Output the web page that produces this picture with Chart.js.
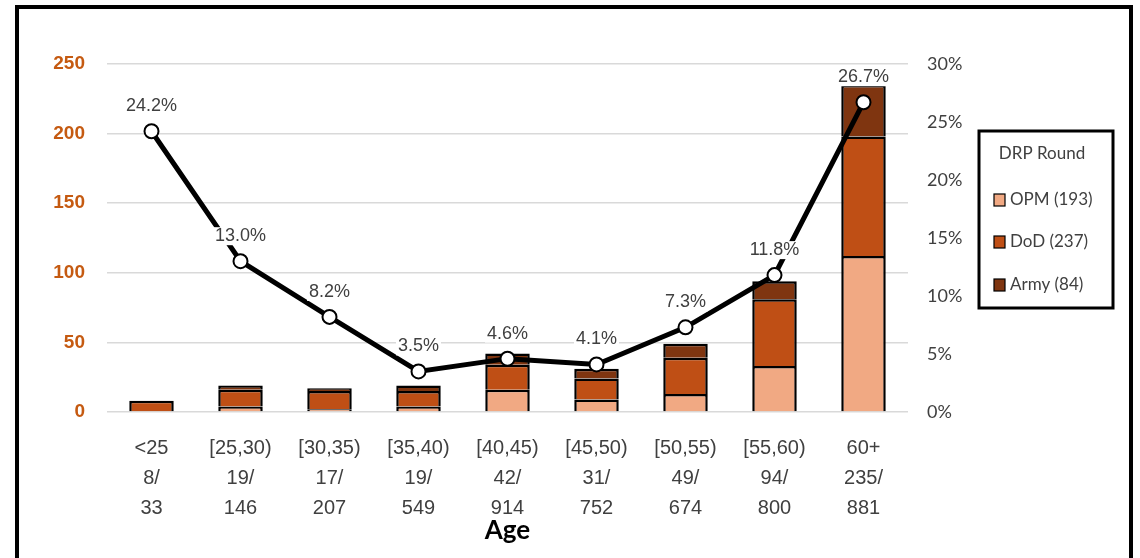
<!DOCTYPE html>
<html>
<head>
<meta charset="utf-8">
<script src="https://cdn.jsdelivr.net/npm/chart.js@4"></script>
<style>
  html, body { margin: 0; padding: 0; background: #ffffff; }
  #wrap { width: 1140px; height: 558px; position: relative; }
</style>
</head>
<body>
<div id="wrap"><canvas id="chart" width="1140" height="558"></canvas></div>
<script>
// Age groups, with cases / total for each group
const ageGroups = ['<25', '[25,30)', '[30,35)', '[35,40)', '[40,45)', '[45,50)', '[50,55)', '[55,60)', '60+'];
const cases     = [8, 19, 17, 19, 42, 31, 49, 94, 235];
const totals    = [33, 146, 207, 549, 914, 752, 674, 800, 881];

// Cases by DRP round (stacked bars)
const opm  = [0, 4, 2, 4, 16, 9, 13, 33, 112];
const dod  = [8, 12, 13, 11, 18, 15, 26, 48, 86];
const army = [0, 3, 2, 4, 8, 7, 10, 13, 37];

// Share of each age group (percent, right axis)
const rate = [24.2, 13.0, 8.2, 3.5, 4.6, 4.1, 7.3, 11.8, 26.7];

// Axis ticks
const countTicks = [0, 50, 100, 150, 200, 250];
const pctTicks   = [0, 5, 10, 15, 20, 25, 30];

const roundNames  = ['OPM', 'DoD', 'Army'];
const roundColors = ['#F1A983', '#BF4F15', '#7F3510'];
const roundData   = [opm, dod, army];

const sum = arr => arr.reduce((a, b) => a + b, 0);
const xLabels = ageGroups.map((g, i) => [g, cases[i] + '/', String(totals[i])]);

// Outer frame around the whole figure
const framePlugin = {
  id: 'frame',
  beforeDraw(chart) {
    const c = chart.ctx;
    c.save();
    c.fillStyle = '#ffffff';
    c.fillRect(0, 0, chart.width, chart.height);
    c.strokeStyle = '#000000';
    c.lineWidth = 4;
    c.strokeRect(17, 7, 1114, 620);
    c.restore();
  }
};

// Percent labels above the line points, on a white backing
const pointLabelPlugin = {
  id: 'pointLabels',
  afterDatasetsDraw(chart) {
    const c = chart.ctx;
    const meta = chart.getDatasetMeta(0);
    const ds = chart.data.datasets[0];
    c.save();
    c.font = '18px "Liberation Sans", Arial, sans-serif';
    c.textAlign = 'center';
    c.textBaseline = 'middle';
    meta.data.forEach((pt, i) => {
      const txt = ds.data[i].toFixed(1) + '%';
      const w = c.measureText(txt).width;
      const y = pt.y - 25;
      c.fillStyle = '#ffffff';
      c.fillRect(pt.x - w / 2 - 2, y - 9, w + 4, 18);
      c.fillStyle = '#404040';
      c.fillText(txt, pt.x, y);
    });
    c.restore();
  }
};

// Boxed legend on the right
const legendBoxPlugin = {
  id: 'legendBox',
  afterDraw(chart) {
    const c = chart.ctx;
    const x0 = 979, y0 = 131, w = 134, h = 177;
    c.save();
    c.fillStyle = '#ffffff';
    c.fillRect(x0, y0, w, h);
    c.strokeStyle = '#000000';
    c.lineWidth = 3;
    c.strokeRect(x0, y0, w, h);
    c.fillStyle = '#404040';
    c.font = '17px Lato, "Noto Sans", sans-serif';
    c.textAlign = 'center';
    c.textBaseline = 'middle';
    c.fillText('DRP Round', x0 + w / 2 - 4, y0 + 23);
    c.textAlign = 'left';
    const rows = [200, 242, 285];
    chart.data.datasets.slice(1).forEach((ds, i) => {
      const y = rows[i];
      c.fillStyle = ds.backgroundColor;
      c.fillRect(994, y - 6, 11, 12);
      c.strokeStyle = '#000000';
      c.lineWidth = 1.2;
      c.strokeRect(994, y - 6, 11, 12);
      c.fillStyle = '#404040';
      c.fillText(ds.label, 1010, y);
    });
    c.restore();
  }
};

const datasets = [{
  type: 'line',
  label: 'Rate',
  data: rate,
  yAxisID: 'y1',
  order: 0,
  borderColor: '#000000',
  borderWidth: 5,
  tension: 0,
  pointRadius: 7,
  pointBorderWidth: 2,
  pointBackgroundColor: '#ffffff',
  pointBorderColor: '#000000'
}].concat(roundNames.map((name, i) => ({
  type: 'bar',
  label: name + ' (' + sum(roundData[i]) + ')',
  data: roundData[i],
  yAxisID: 'y',
  order: 1,
  stack: 'rounds',
  backgroundColor: roundColors[i],
  borderColor: '#000000',
  borderWidth: 2.5,
  categoryPercentage: 1,
  barPercentage: 0.5
})));

new Chart(document.getElementById('chart'), {
  type: 'bar',
  data: { labels: xLabels, datasets },
  plugins: [framePlugin, pointLabelPlugin, legendBoxPlugin],
  options: {
    responsive: false,
    animation: false,
    layout: { padding: { left: 20, right: 157, top: 64, bottom: 0 } },
    plugins: { legend: { display: false }, tooltip: { enabled: false } },
    scales: {
      x: {
        stacked: true,
        grid: { display: false },
        border: { display: false },
        ticks: {
          color: '#404040',
          padding: 13,
          maxRotation: 0,
          autoSkip: false,
          font: { family: '"Liberation Sans", Arial, sans-serif', size: 20, lineHeight: 1.5 }
        },
        title: {
          display: true,
          text: 'Age',
          color: '#000000',
          padding: { top: 0, bottom: 12 },
          font: { family: 'Lato, "Noto Sans", sans-serif', size: 26, weight: 'bold', lineHeight: 1.2 }
        },
        afterFit(s) { s.height = 146; }
      },
      y: {
        stacked: true,
        min: countTicks[0],
        max: countTicks[countTicks.length - 1],
        afterBuildTicks(s) { s.ticks = countTicks.map(v => ({ value: v })); },
        grid: { color: '#d9d9d9', lineWidth: 1.5, drawTicks: false },
        border: { display: false },
        ticks: {
          color: '#C55A11',
          padding: 22,
          font: { family: '"Liberation Sans", Arial, sans-serif', size: 19, weight: 'bold' }
        },
        afterFit(s) { s.width = 87; }
      },
      y1: {
        position: 'right',
        min: pctTicks[0],
        max: pctTicks[pctTicks.length - 1],
        afterBuildTicks(s) { s.ticks = pctTicks.map(v => ({ value: v })); },
        grid: { display: false, drawTicks: false },
        border: { display: false },
        ticks: {
          color: '#404040',
          padding: 19,
          callback: v => v + '%',
          font: { family: 'Lato, "Noto Sans", sans-serif', size: 18 }
        },
        afterFit(s) { s.width = 75; }
      }
    }
  }
});
</script>
</body>
</html>
